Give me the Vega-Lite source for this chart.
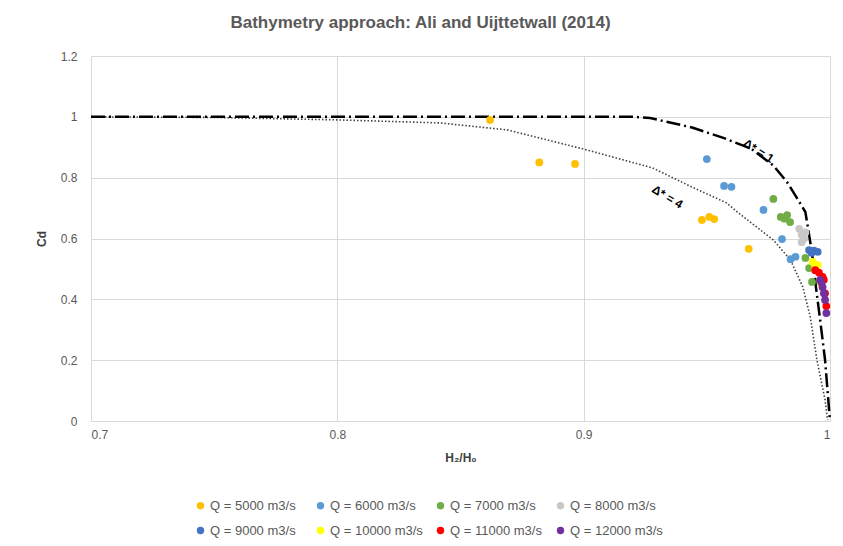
{
  "$schema": "https://vega.github.io/schema/vega-lite/v6.json",
  "autosize": {"type": "none"},
  "width": 739,
  "height": 365,
  "padding": {"left": 91, "top": 56, "right": 13, "bottom": 125},
  "background": "white",
  "title": {
    "text": "Bathymetry approach: Ali and Uijttetwall (2014)",
    "font": "Liberation Sans",
    "fontSize": 17,
    "fontWeight": "bold",
    "color": "#595959",
    "offset": 18,
    "dx": -40
  },
  "config": {
    "view": {"stroke": null},
    "axis": {
      "labelFont": "Liberation Sans",
      "labelFontSize": 12,
      "labelColor": "#595959",
      "titleFont": "Liberation Sans",
      "titleFontSize": 12,
      "titleColor": "#404040",
      "gridColor": "#D9D9D9",
      "domainColor": "#D9D9D9",
      "ticks": false
    }
  },
  "datasets": {
    "d1": [
      {"x": 0.7, "y": 1}, {"x": 0.92, "y": 1}, {"x": 0.927, "y": 0.996}, {"x": 0.944, "y": 0.965},
      {"x": 0.957, "y": 0.93}, {"x": 0.968, "y": 0.895}, {"x": 0.977, "y": 0.84}, {"x": 0.9826, "y": 0.785},
      {"x": 0.9866, "y": 0.733}, {"x": 0.99, "y": 0.687}, {"x": 0.991, "y": 0.638}, {"x": 0.9927, "y": 0.552},
      {"x": 0.9943, "y": 0.44}, {"x": 0.996, "y": 0.332}, {"x": 0.998, "y": 0.2}, {"x": 1.0, "y": 0}
    ],
    "d4": [
      {"x": 0.7, "y": 1}, {"x": 0.75, "y": 0.998}, {"x": 0.8, "y": 0.99}, {"x": 0.8417, "y": 0.98},
      {"x": 0.869, "y": 0.957}, {"x": 0.9, "y": 0.894}, {"x": 0.928, "y": 0.832}, {"x": 0.944, "y": 0.769},
      {"x": 0.958, "y": 0.717}, {"x": 0.9635, "y": 0.68}, {"x": 0.977, "y": 0.595}, {"x": 0.984, "y": 0.529},
      {"x": 0.989, "y": 0.44}, {"x": 0.992, "y": 0.342}, {"x": 0.9947, "y": 0.2}, {"x": 0.998, "y": 0.069},
      {"x": 0.999, "y": 0.003}
    ],
    "pts": [
      {"Q": "Q = 5000 m3/s", "x": 0.862, "y": 0.99},
      {"Q": "Q = 5000 m3/s", "x": 0.882, "y": 0.85},
      {"Q": "Q = 5000 m3/s", "x": 0.8965, "y": 0.845},
      {"Q": "Q = 5000 m3/s", "x": 0.948, "y": 0.661},
      {"Q": "Q = 5000 m3/s", "x": 0.951, "y": 0.671},
      {"Q": "Q = 5000 m3/s", "x": 0.953, "y": 0.664},
      {"Q": "Q = 5000 m3/s", "x": 0.967, "y": 0.566},
      {"Q": "Q = 6000 m3/s", "x": 0.95, "y": 0.861},
      {"Q": "Q = 6000 m3/s", "x": 0.957, "y": 0.773},
      {"Q": "Q = 6000 m3/s", "x": 0.96, "y": 0.77},
      {"Q": "Q = 6000 m3/s", "x": 0.973, "y": 0.694},
      {"Q": "Q = 6000 m3/s", "x": 0.9805, "y": 0.598},
      {"Q": "Q = 6000 m3/s", "x": 0.984, "y": 0.532},
      {"Q": "Q = 6000 m3/s", "x": 0.986, "y": 0.54},
      {"Q": "Q = 7000 m3/s", "x": 0.977, "y": 0.73},
      {"Q": "Q = 7000 m3/s", "x": 0.98, "y": 0.671},
      {"Q": "Q = 7000 m3/s", "x": 0.9826, "y": 0.677},
      {"Q": "Q = 7000 m3/s", "x": 0.9838, "y": 0.654},
      {"Q": "Q = 7000 m3/s", "x": 0.9815, "y": 0.665},
      {"Q": "Q = 7000 m3/s", "x": 0.99, "y": 0.536},
      {"Q": "Q = 7000 m3/s", "x": 0.9915, "y": 0.503},
      {"Q": "Q = 7000 m3/s", "x": 0.9927, "y": 0.457},
      {"Q": "Q = 8000 m3/s", "x": 0.9875, "y": 0.632},
      {"Q": "Q = 8000 m3/s", "x": 0.9885, "y": 0.612},
      {"Q": "Q = 8000 m3/s", "x": 0.9895, "y": 0.6},
      {"Q": "Q = 8000 m3/s", "x": 0.9885, "y": 0.588},
      {"Q": "Q = 8000 m3/s", "x": 0.99, "y": 0.62},
      {"Q": "Q = 9000 m3/s", "x": 0.9915, "y": 0.562},
      {"Q": "Q = 9000 m3/s", "x": 0.9935, "y": 0.56},
      {"Q": "Q = 9000 m3/s", "x": 0.995, "y": 0.556},
      {"Q": "Q = 9000 m3/s", "x": 0.9925, "y": 0.553},
      {"Q": "Q = 10000 m3/s", "x": 0.993, "y": 0.523},
      {"Q": "Q = 10000 m3/s", "x": 0.995, "y": 0.513},
      {"Q": "Q = 10000 m3/s", "x": 0.994, "y": 0.505},
      {"Q": "Q = 10000 m3/s", "x": 0.9965, "y": 0.45},
      {"Q": "Q = 11000 m3/s", "x": 0.994, "y": 0.496},
      {"Q": "Q = 11000 m3/s", "x": 0.9955, "y": 0.488},
      {"Q": "Q = 11000 m3/s", "x": 0.997, "y": 0.474},
      {"Q": "Q = 11000 m3/s", "x": 0.9975, "y": 0.464},
      {"Q": "Q = 11000 m3/s", "x": 0.998, "y": 0.42},
      {"Q": "Q = 11000 m3/s", "x": 0.9985, "y": 0.378},
      {"Q": "Q = 12000 m3/s", "x": 0.996, "y": 0.464},
      {"Q": "Q = 12000 m3/s", "x": 0.9965, "y": 0.455},
      {"Q": "Q = 12000 m3/s", "x": 0.997, "y": 0.44},
      {"Q": "Q = 12000 m3/s", "x": 0.9975, "y": 0.42},
      {"Q": "Q = 12000 m3/s", "x": 0.998, "y": 0.398},
      {"Q": "Q = 12000 m3/s", "x": 0.9985, "y": 0.355}
    ],
    "labels": [
      {"x": 0.971, "y": 0.888, "label": "Δ* = 1"},
      {"x": 0.934, "y": 0.737, "label": "Δ* = 4"}
    ]
  },
  "encoding": {
    "x": {
      "field": "x", "type": "quantitative",
      "scale": {"domain": [0.7, 1.0], "nice": false, "zero": false},
      "axis": {"values": [0.7, 0.8, 0.9, 1.0], "format": "~g", "title": "H₂/H₀", "titlePadding": 12, "labelPadding": 8}
    },
    "y": {
      "field": "y", "type": "quantitative",
      "scale": {"domain": [0, 1.2], "nice": false},
      "axis": {"values": [0, 0.2, 0.4, 0.6, 0.8, 1.0, 1.2], "format": "~g", "title": "Cd", "titlePadding": 12, "labelPadding": 14}
    }
  },
  "layer": [
    {
      "data": {"name": "d4"},
      "mark": {"type": "line", "color": "#404040", "strokeWidth": 1.6, "strokeDash": [1.5, 2]},
      "encoding": {}
    },
    {
      "data": {"name": "d1"},
      "mark": {"type": "line", "color": "#000000", "strokeWidth": 2.5, "strokeDash": [14, 4, 2, 4]},
      "encoding": {}
    },
    {
      "data": {"name": "pts"},
      "mark": {"type": "point", "filled": true, "opacity": 1, "size": 60, "shape": "circle"},
      "encoding": {
        "color": {
          "field": "Q", "type": "nominal",
          "scale": {
            "domain": ["Q = 5000 m3/s", "Q = 6000 m3/s", "Q = 7000 m3/s", "Q = 8000 m3/s", "Q = 9000 m3/s", "Q = 10000 m3/s", "Q = 11000 m3/s", "Q = 12000 m3/s"],
            "range": ["#FFC000", "#5B9BD5", "#70AD47", "#C8C8C8", "#4472C4", "#FFFF00", "#FF0000", "#7030A0"]
          },
          "legend": {
            "title": null,
            "orient": "none",
            "legendX": 103,
            "legendY": 443,
            "direction": "horizontal",
            "columns": 4,
            "gridAlign": "all",
            "columnPadding": 11,
            "rowPadding": 11,
            "symbolType": "circle",
            "symbolSize": 55,
            "symbolOffset": 0,
            "labelOffset": 3,
            "labelFont": "Liberation Sans",
            "labelFontSize": 13,
            "labelColor": "#595959"
          }
        }
      }
    },
    {
      "data": {"name": "labels"},
      "transform": [{"filter": "datum.label === 'Δ* = 1'"}],
      "mark": {"type": "text", "font": "Liberation Sans", "fontSize": 12, "fontWeight": "bold", "color": "#000000", "angle": 32},
      "encoding": {"text": {"field": "label"}}
    },
    {
      "data": {"name": "labels"},
      "transform": [{"filter": "datum.label === 'Δ* = 4'"}],
      "mark": {"type": "text", "font": "Liberation Sans", "fontSize": 12, "fontWeight": "bold", "color": "#000000", "angle": 31},
      "encoding": {"text": {"field": "label"}}
    }
  ]
}
